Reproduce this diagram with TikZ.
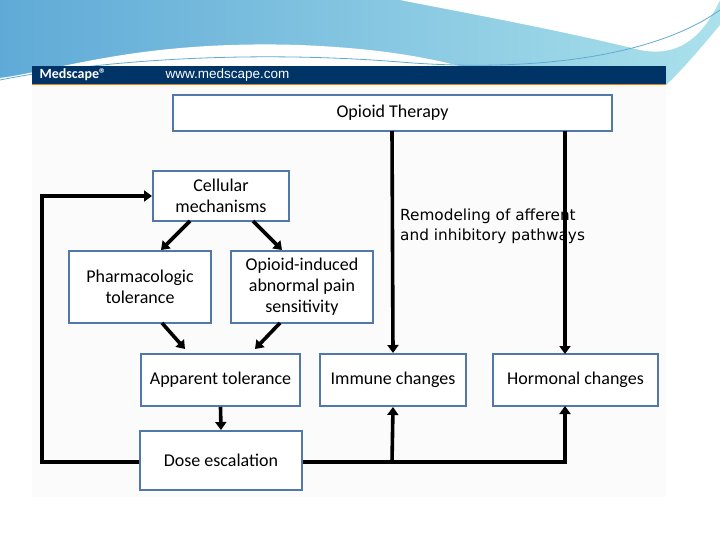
\documentclass[tikz,border=0pt]{standalone}
\usepackage{fontspec}
\setmainfont{Carlito}
\newfontfamily\dejavu{DejaVu Sans}
\newfontfamily\arialish{Liberation Sans}
\usetikzlibrary{arrows.meta}
\definecolor{navy}{RGB}{0,51,102}
\definecolor{boxb}{RGB}{80,120,170}
\definecolor{skyA}{RGB}{95,170,215}
\definecolor{skyB}{RGB}{170,225,235}
\begin{document}
\begin{tikzpicture}[x=1pt,y=-1pt,
  box/.style={draw=boxb,line width=2pt,fill=white,align=center,font=\fontsize{18}{21}\selectfont,inner sep=0pt},
  arr/.style={line width=3.6pt,-{Triangle[length=8pt,width=11pt]}},
  ln/.style={line width=3.6pt}]
\useasboundingbox (0,0) rectangle (720,540);
% top swoosh
\shade[left color=skyA,right color=skyB] (0,0) -- (720,0) -- (720,25) .. controls (690,60) and (660,100) .. (600,135) .. controls (480,120) and (330,85) .. (200,88) .. controls (120,90) and (40,80) .. (0,78) -- cycle;
\fill[white] (0,78) .. controls (60,70) and (140,40) .. (300,45) .. controls (420,50) and (520,70) .. (600,135) -- (720,140) -- (720,540) -- (0,540) -- cycle;
\fill[white] (400,0) .. controls (450,10) and (560,30) .. (640,50) .. controls (690,60) and (710,20) .. (720,0) -- cycle;
\draw[skyA,line width=0.8pt] (0,80) .. controls (100,60) and (250,50) .. (400,62) .. controls (520,72) and (650,60) .. (720,10);
% panel
\fill[gray!3] (32,84) rectangle (666,497);
\fill[navy] (32,66) rectangle (666,84);
\draw[orange!80!brown,line width=1pt] (32,84.5) -- (666,84.5);
\node[white,anchor=west,font=\fontsize{14}{16}\selectfont\bfseries] (ms) at (36,75) {Medscape\textregistered};
\node[white,anchor=west,font=\arialish\fontsize{13.5}{16}\selectfont] (url) at (162,75) {www.medscape.com};
% boxes
\node[box,minimum width=439pt,minimum height=36pt] (ot) at (392.5,113) {Opioid Therapy};
\node[box,minimum width=136pt,minimum height=50pt] (cm) at (221,196) {Cellular\\mechanisms};
\node[box,minimum width=142pt,minimum height=72pt] (pt) at (140,287) {Pharmacologic\\tolerance};
\node[box,minimum width=142pt,minimum height=72pt] (oi) at (302,287) {Opioid-induced\\abnormal pain\\sensitivity};
\node[box,minimum width=159pt,minimum height=52pt] (at) at (220.5,380) {Apparent tolerance};
\node[box,minimum width=146pt,minimum height=52pt] (ic) at (393,380) {Immune changes};
\node[box,minimum width=165pt,minimum height=52pt] (hc) at (575.5,380) {Hormonal changes};
\node[box,minimum width=162pt,minimum height=59pt] (de) at (221,460.5) {Dose escalation};
% arrows
\coordinate (c1) at (42,462); \coordinate (c2) at (42,196);
\coordinate (c3) at (565,462); \coordinate (c4) at (392,462);
\draw[arr] (392,131) -- (ic.north);
\draw[arr] (565,131) -- (565,354);
\draw[ln] (de.east |- c3) -- ([xshift=1.8pt]c3);
\draw[arr] (c3) -- (565,406);
\draw[arr] (c4) -- (ic.south);
\draw[arr] (de.west |- c1) -- (c1) -- (c2) -- (cm.west);
\draw[arr] (190,221) -- (161,250);
\draw[arr] (253,221) -- (282,250);
\draw[arr] (162,323) -- (185,349);
\draw[arr] (280,323) -- (255,349);
\draw[arr] (at.south) -- (de.north);
\node[anchor=north west,align=left,font=\dejavu\fontsize{15.3}{20}\selectfont,inner sep=0pt] (rm) at (400,209) {Remodeling of afferent\\and inhibitory pathways};
\end{tikzpicture}
\end{document}
